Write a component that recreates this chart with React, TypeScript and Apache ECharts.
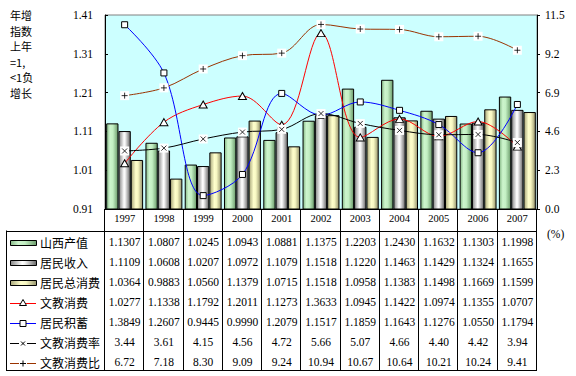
import React, { useEffect, useRef } from "react";
import * as echarts from "echarts";

const categories = ["1997", "1998", "1999", "2000", "2001", "2002", "2003", "2004", "2005", "2006", "2007"];
const gdpIndex = [1.1307, 1.0807, 1.0245, 1.0943, 1.0881, 1.1375, 1.2203, 1.2430, 1.1632, 1.1303, 1.1998];
const incomeIndex = [1.1109, 1.0608, 1.0207, 1.0972, 1.1079, 1.1518, 1.1220, 1.1463, 1.1429, 1.1324, 1.1655];
const consumptionIndex = [1.0364, 0.9883, 1.0560, 1.1379, 1.0715, 1.1518, 1.0958, 1.1383, 1.1498, 1.1669, 1.1599];
const eduSpendIndex = [1.0277, 1.1338, 1.1792, 1.2011, 1.1273, 1.3633, 1.0945, 1.1422, 1.0974, 1.1355, 1.0707];
const savingsIndex = [1.3849, 1.2607, 0.9445, 0.9990, 1.2079, 1.1517, 1.1859, 1.1643, 1.1276, 1.0550, 1.1794];
const eduRate = [3.44, 3.61, 4.15, 4.56, 4.72, 5.66, 5.07, 4.66, 4.40, 4.42, 3.94];
const eduRatio = [6.72, 7.18, 8.30, 9.09, 9.24, 10.94, 10.67, 10.64, 10.21, 10.24, 9.41];

const seriesNames = ["山西产值", "居民收入", "居民总消费", "文教消费", "居民积蓄", "文教消费率", "文教消费比"];
const leftAxis = { min: 0.91, max: 1.41, interval: 0.1 };
const rightAxis = { min: 0, max: 11.5, interval: 2.3 };
const yAxisTitleLines = ["年增", "指数", "上年", "=1,", "<1负", "增长"];

const SERIF = '"Liberation Serif", "Times New Roman", serif';
const CJK = '"Noto Sans CJK SC", sans-serif';

export default function App() {
  const ref = useRef<HTMLDivElement>(null);
  useEffect(() => {
    if (!ref.current) return;
    const chart = echarts.init(ref.current, null, { renderer: "svg" });
    const LG = echarts.graphic.LinearGradient;
    const green = () =>
      new LG(0, 0, 1, 0, [
        { offset: 0, color: "#86b886" },
        { offset: 0.3, color: "#cdf5cd" },
        { offset: 0.55, color: "#c3efc3" },
        { offset: 1, color: "#6a9a6a" },
      ]);
    const gray = () =>
      new LG(0, 0, 1, 0, [
        { offset: 0, color: "#858585" },
        { offset: 0.45, color: "#ffffff" },
        { offset: 0.55, color: "#f2f2f2" },
        { offset: 1, color: "#666666" },
      ]);
    const yellow = () =>
      new LG(0, 0, 1, 0, [
        { offset: 0, color: "#a8a67a" },
        { offset: 0.4, color: "#ffffcc" },
        { offset: 0.6, color: "#f7f7c2" },
        { offset: 1, color: "#96946c" },
      ]);

    const gridLeft = 105;
    const gridRight = 39;
    const gridTop = 15;
    const gridBottom = 167;
    const W = 576;
    const plotW = W - gridLeft - gridRight;
    const cw = plotW / categories.length;
    const axisY = 376 - gridBottom;
    const tableTop = 231;
    const tableBottom = 370;
    const tableLeft = 6;
    const rowY0 = 242;
    const rowH = 20;

    const tableRows = [
      gdpIndex.map((v) => v.toFixed(4)),
      incomeIndex.map((v) => v.toFixed(4)),
      consumptionIndex.map((v) => v.toFixed(4)),
      eduSpendIndex.map((v) => v.toFixed(4)),
      savingsIndex.map((v) => v.toFixed(4)),
      eduRate.map((v) => v.toFixed(2)),
      eduRatio.map((v) => v.toFixed(2)),
    ];

    const graphics: any[] = [];
    // y axis title, one line per element
    yAxisTitleLines.forEach((t, k) => {
      graphics.push({
        type: "text",
        x: 10,
        y: 15 + k * 15.6,
        silent: true,
        style: { text: t, font: `11px ${CJK}`, fill: "#000", verticalAlign: "middle" },
      });
    });
    // (%)
    graphics.push({
      type: "text",
      x: 547,
      y: 234,
      silent: true,
      style: { text: "(%)", font: `11.5px ${SERIF}`, fill: "#000", verticalAlign: "middle" },
    });
    // table lines
    for (let i = 0; i <= categories.length; i++) {
      const x = Math.round(gridLeft + i * cw) - 0.5;
      graphics.push({
        type: "line",
        silent: true,
        shape: { x1: x, y1: axisY, x2: x, y2: tableBottom },
        style: { stroke: "#000", lineWidth: 1 },
      });
    }
    graphics.push({
      type: "line",
      silent: true,
      shape: { x1: tableLeft + 0.5, y1: tableTop - 0.5, x2: tableLeft + 0.5, y2: tableBottom },
      style: { stroke: "#000", lineWidth: 1 },
    });
    graphics.push({
      type: "line",
      silent: true,
      shape: { x1: tableLeft, y1: tableTop + 0.5, x2: W - gridRight, y2: tableTop + 0.5 },
      style: { stroke: "#000", lineWidth: 1 },
    });
    graphics.push({
      type: "line",
      silent: true,
      shape: { x1: tableLeft, y1: tableBottom + 0.5, x2: W - gridRight, y2: tableBottom + 0.5 },
      style: { stroke: "#000", lineWidth: 1 },
    });
    // table values
    tableRows.forEach((row, r) => {
      row.forEach((txt, i) => {
        graphics.push({
          type: "text",
          silent: true,
          x: gridLeft + (i + 0.5) * cw,
          y: rowY0 + r * rowH,
          style: { text: txt, font: `11.5px ${SERIF}`, fill: "#000", align: "center", verticalAlign: "middle" },
        });
      });
    });
    // legend keys
    const barFills = [green(), gray(), yellow()];
    seriesNames.forEach((name, r) => {
      const cy = rowY0 + r * rowH;
      graphics.push({
        type: "text",
        silent: true,
        x: 40,
        y: cy,
        style: { text: name, font: `12px ${CJK}`, fill: "#000", verticalAlign: "middle" },
      });
      if (r < 3) {
        graphics.push({
          type: "rect",
          silent: true,
          shape: { x: 10.5, y: cy - 1.5, width: 26, height: 5 },
          style: { fill: barFills[r], stroke: "#000", lineWidth: 1 },
        });
      } else {
        const colors = ["#ff0000", "#0000ff", "#000000", "#993300"];
        const col = colors[r - 3];
        const ly = cy + 1.5;
        graphics.push({
          type: "line",
          silent: true,
          shape: { x1: 10, y1: ly, x2: 36, y2: ly },
          style: { stroke: col, lineWidth: 1 },
        });
        if (r === 3) {
          graphics.push({
            type: "polygon",
            silent: true,
            shape: { points: [[23, ly - 4], [19.5, ly + 2], [26.5, ly + 2]] },
            style: { fill: "#fff", stroke: "#000", lineWidth: 1 },
          });
        } else if (r === 4) {
          graphics.push({
            type: "rect",
            silent: true,
            shape: { x: 20, y: ly - 3, width: 6, height: 6 },
            style: { fill: "#fff", stroke: "#000", lineWidth: 1 },
          });
        } else if (r === 5) {
          graphics.push({ type: "rect", silent: true, shape: { x: 19, y: ly - 4, width: 8, height: 8 }, style: { fill: "#fff" } });
          graphics.push({ type: "line", silent: true, shape: { x1: 21, y1: ly - 2, x2: 25, y2: ly + 2 }, style: { stroke: "#000", lineWidth: 1 } });
          graphics.push({ type: "line", silent: true, shape: { x1: 25, y1: ly - 2, x2: 21, y2: ly + 2 }, style: { stroke: "#000", lineWidth: 1 } });
        } else {
          graphics.push({ type: "rect", silent: true, shape: { x: 19, y: ly - 4, width: 8, height: 8 }, style: { fill: "#fff" } });
          graphics.push({ type: "line", silent: true, shape: { x1: 23, y1: ly - 3, x2: 23, y2: ly + 3 }, style: { stroke: "#000", lineWidth: 1 } });
          graphics.push({ type: "line", silent: true, shape: { x1: 20, y1: ly, x2: 26, y2: ly }, style: { stroke: "#000", lineWidth: 1 } });
        }
      }
    });

    const barCommon = {
      type: "bar",
      yAxisIndex: 0,
      barGap: "0%",
      barCategoryGap: "6%",
      silent: true,
    };
    const crossPath = "path://M0,0L10,10M10,0L0,10";
    const plusPath = "path://M5,0L5,10M0,5L10,5";

    chart.setOption({
      animation: false,
      grid: {
        left: gridLeft,
        right: gridRight,
        top: gridTop,
        bottom: gridBottom,
        show: true,
        backgroundColor: "#ccffff",
        borderColor: "#808080",
        borderWidth: 1,
      },
      xAxis: {
        type: "category",
        data: categories,
        boundaryGap: true,
        axisLine: { lineStyle: { color: "#000", width: 1 } },
        axisTick: { show: false },
        axisLabel: { color: "#000", fontFamily: SERIF, fontSize: 10.5, margin: 4 },
      },
      yAxis: [
        {
          type: "value",
          min: leftAxis.min,
          max: leftAxis.max,
          interval: leftAxis.interval,
          axisLine: { show: true, lineStyle: { color: "#000" } },
          axisTick: { show: true, inside: true, length: 3, lineStyle: { color: "#000" } },
          splitLine: { show: false },
          axisLabel: {
            color: "#000",
            fontFamily: SERIF,
            fontSize: 11.5,
            margin: 12,
            formatter: (v: number) => v.toFixed(2),
          },
        },
        {
          type: "value",
          position: "right",
          min: rightAxis.min,
          max: rightAxis.max,
          interval: rightAxis.interval,
          axisLine: { show: true, lineStyle: { color: "#000" } },
          axisTick: { show: true, length: 3, lineStyle: { color: "#000" } },
          splitLine: { show: false },
          axisLabel: {
            color: "#000",
            fontFamily: SERIF,
            fontSize: 11.5,
            margin: 8,
            formatter: (v: number) => v.toFixed(1),
          },
        },
      ],
      series: [
        { ...barCommon, name: seriesNames[0], data: gdpIndex, itemStyle: { color: green(), borderColor: "#000", borderWidth: 1 } },
        { ...barCommon, name: seriesNames[1], data: incomeIndex, itemStyle: { color: gray(), borderColor: "#000", borderWidth: 1 } },
        { ...barCommon, name: seriesNames[2], data: consumptionIndex, itemStyle: { color: yellow(), borderColor: "#000", borderWidth: 1 } },
        {
          type: "line",
          name: seriesNames[3],
          data: eduSpendIndex,
          yAxisIndex: 0,
          smooth: 0.35,
          silent: true,
          z: 4,
          lineStyle: { color: "#ff0000", width: 1 },
          symbol: "triangle",
          symbolSize: [8, 7],
          itemStyle: { color: "#fff", borderColor: "#000", borderWidth: 1 },
        },
        {
          type: "line",
          name: seriesNames[4],
          data: savingsIndex,
          yAxisIndex: 0,
          smooth: 0.35,
          silent: true,
          z: 4,
          lineStyle: { color: "#0000ff", width: 1 },
          symbol: "rect",
          symbolSize: 6,
          itemStyle: { color: "#fff", borderColor: "#000", borderWidth: 1 },
        },
        {
          type: "line",
          name: seriesNames[5],
          data: eduRate,
          yAxisIndex: 1,
          smooth: 0.35,
          silent: true,
          z: 4,
          lineStyle: { color: "#000000", width: 1 },
          symbol: "rect",
          symbolSize: 9,
          itemStyle: { color: "#fff", borderWidth: 0 },
        },
        {
          type: "line",
          name: seriesNames[6],
          data: eduRatio,
          yAxisIndex: 1,
          smooth: 0.35,
          silent: true,
          z: 4,
          lineStyle: { color: "#993300", width: 1 },
          symbol: "rect",
          symbolSize: 9,
          itemStyle: { color: "#fff", borderWidth: 0 },
        },
        {
          type: "scatter",
          data: eduRate,
          yAxisIndex: 1,
          silent: true,
          z: 6,
          symbol: crossPath,
          symbolSize: 5,
          itemStyle: { color: "transparent", borderColor: "#000", borderWidth: 1 },
        },
        {
          type: "scatter",
          data: eduRatio,
          yAxisIndex: 1,
          silent: true,
          z: 6,
          symbol: plusPath,
          symbolSize: 6,
          itemStyle: { color: "transparent", borderColor: "#000", borderWidth: 1 },
        },
      ],
      graphic: graphics,
    });
    return () => chart.dispose();
  }, []);
  return <div ref={ref} style={{ width: 576, height: 376, position: "absolute", left: 0, top: 0 }} />;
}
